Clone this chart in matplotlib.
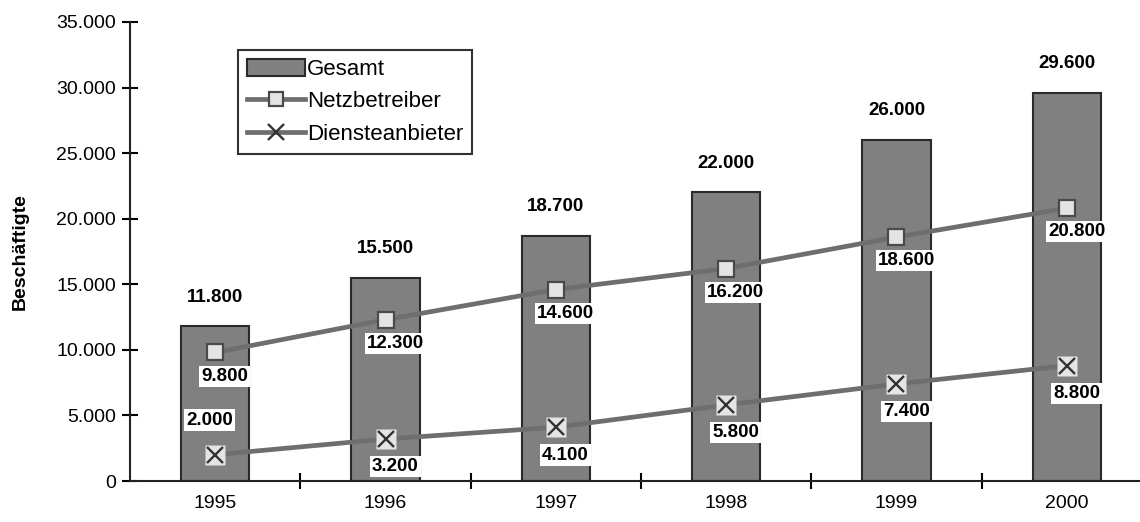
import matplotlib.pyplot as plt
from matplotlib.ticker import FuncFormatter
from matplotlib.lines import Line2D
from matplotlib.patches import Patch

plt.rcParams['font.family'] = ['Liberation Sans', 'DejaVu Sans']

years = ['1995', '1996', '1997', '1998', '1999', '2000']
gesamt = [11800, 15500, 18700, 22000, 26000, 29600]
netz = [9800, 12300, 14600, 16200, 18600, 20800]
dienst = [2000, 3200, 4100, 5800, 7400, 8800]


def de(v):
    return f'{v:,.0f}'.replace(',', '.')


fig = plt.figure(figsize=(11.4, 5.22), dpi=100)
ax = fig.add_axes([130 / 1140, 1 - 481 / 522, 1022 / 1140, 459 / 522])

x = list(range(len(years)))
ax.bar(x, gesamt, width=0.4, color='#808080', edgecolor='#2a2a2a', linewidth=1.5, zorder=2)
ax.plot(x, netz, color='#6e6e6e', lw=3.4, marker='s', ms=11, mfc='#e4e4e4',
        mec='#4a4a4a', mew=1.6, zorder=3)
ax.plot(x, dienst, color='#6e6e6e', lw=3.4, zorder=3)
ax.plot(x, dienst, ls='none', marker='s', ms=14, mfc='#e4e4e4', mec='none', zorder=4)
ax.plot(x, dienst, ls='none', marker='x', ms=12, mec='#333333', mew=1.7, zorder=5)

box = dict(facecolor='white', edgecolor='none', pad=1.5)
for i in x:
    ax.annotate(de(gesamt[i]), (i, gesamt[i]), xytext=(0, 21), textcoords='offset points',
                ha='center', va='center', fontsize=13.5, fontweight='bold')
    ax.annotate(de(netz[i]), (i, netz[i]), xytext=(7, -17), textcoords='offset points',
                ha='center', va='center', fontsize=13.5, fontweight='bold', bbox=box, zorder=6)
    off = (-4, 25) if i == 0 else (7, -20)
    ax.annotate(de(dienst[i]), (i, dienst[i]), xytext=off, textcoords='offset points',
                ha='center', va='center', fontsize=13.5, fontweight='bold', bbox=box, zorder=6)

ax.set_xlim(-0.5, len(years) - 0.5)
ax.set_ylim(0, 35000)
ax.set_yticks(range(0, 35001, 5000))
ax.yaxis.set_major_formatter(FuncFormatter(lambda v, p: de(v)))
ax.set_xticks([i + 0.5 for i in x[:-1]])
ax.set_xticklabels([])
ax.set_xticks(x, minor=True)
ax.set_xticklabels(years, minor=True)
ax.tick_params(axis='x', which='minor', length=0, pad=10, labelsize=14)
ax.tick_params(axis='x', which='major', direction='inout', length=12, width=1.5)
ax.tick_params(axis='y', direction='inout', length=12, width=1.5, labelsize=14, pad=4)
for s in ['top', 'right']:
    ax.spines[s].set_visible(False)
for s in ['left', 'bottom']:
    ax.spines[s].set_linewidth(1.5)
    ax.spines[s].set_color('#222222')
ax.set_ylabel('Beschäftigte', fontsize=14, fontweight='bold', labelpad=20)

handles = [
    Patch(facecolor='#808080', edgecolor='#2a2a2a', linewidth=1.5),
    Line2D([], [], color='#6e6e6e', lw=3.4, marker='s', ms=10, mfc='#e4e4e4', mec='#4a4a4a', mew=1.6),
    Line2D([], [], color='#6e6e6e', lw=3.4, marker='x', ms=11, mec='#333333', mew=1.7),
]
leg = fig.legend(handles, ['Gesamt', 'Netzbetreiber', 'Diensteanbieter'],
                 loc='upper left', bbox_to_anchor=(238 / 1140, 1 - 50 / 522),
                 fontsize=16, frameon=True, fancybox=False, handlelength=2.6,
                 handleheight=0.8, handletextpad=0.1, borderpad=0.4, labelspacing=0.5,
                 borderaxespad=0)
leg.get_frame().set_edgecolor('black')
leg.get_frame().set_linewidth(1.5)

fig.savefig('out.png', dpi=100)
